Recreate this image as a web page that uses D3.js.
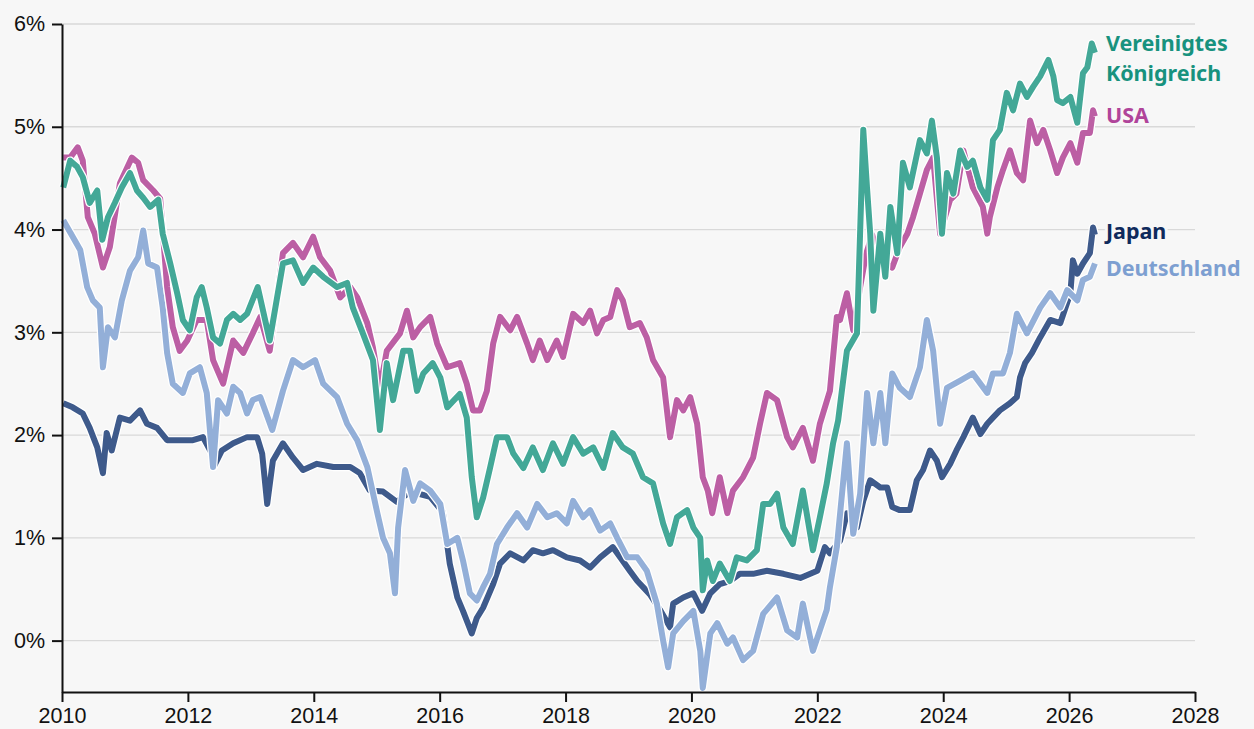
<!DOCTYPE html>
<html>
<head>
<meta charset="utf-8">
<script src="https://cdn.jsdelivr.net/npm/d3@7"></script>
<style>
  body { margin: 0; background: #f7f7f7; }
  svg { display: block; font-family: "Noto Sans", "Open Sans", sans-serif; }
  .axis text { font-size: 21.5px; fill: #111; }
  .axis path, .axis line { stroke: #111; stroke-width: 2; }
  .grid line { stroke: #d9d9d9; stroke-width: 1.3; }
  .label { font-size: 21.5px; font-weight: 700; paint-order: stroke; stroke: #f7f7f7; stroke-width: 6px; stroke-linejoin: round; }
</style>
</head>
<body>
<svg width="1254" height="729"></svg>
<script>
// 30-year government bond yields, [year, %]
var uk = [[2010.02,4.41],[2010.13,4.67],[2010.24,4.61],[2010.33,4.51],[2010.44,4.26],[2010.56,4.38],[2010.64,3.90],[2010.73,4.12],[2010.84,4.26],[2010.95,4.41],[2011.08,4.55],[2011.19,4.38],[2011.29,4.31],[2011.40,4.22],[2011.53,4.29],[2011.60,3.96],[2011.72,3.67],[2011.83,3.38],[2011.92,3.12],[2012.03,3.02],[2012.14,3.34],[2012.22,3.44],[2012.30,3.24],[2012.40,2.95],[2012.51,2.89],[2012.62,3.12],[2012.72,3.18],[2012.83,3.12],[2012.94,3.18],[2013.11,3.44],[2013.30,2.92],[2013.51,3.67],[2013.67,3.70],[2013.83,3.48],[2013.99,3.63],[2014.15,3.54],[2014.37,3.44],[2014.53,3.48],[2014.62,3.24],[2014.78,2.99],[2014.94,2.73],[2015.05,2.05],[2015.16,2.70],[2015.26,2.34],[2015.42,2.82],[2015.53,2.82],[2015.64,2.43],[2015.74,2.60],[2015.89,2.70],[2016.01,2.56],[2016.12,2.27],[2016.32,2.40],[2016.43,2.17],[2016.51,1.59],[2016.59,1.20],[2016.69,1.39],[2016.80,1.68],[2016.91,1.98],[2017.07,1.98],[2017.17,1.82],[2017.33,1.68],[2017.48,1.88],[2017.64,1.66],[2017.80,1.92],[2017.96,1.72],[2018.12,1.98],[2018.28,1.82],[2018.44,1.88],[2018.60,1.68],[2018.75,2.02],[2018.91,1.88],[2019.07,1.82],[2019.23,1.59],[2019.39,1.53],[2019.55,1.14],[2019.66,0.94],[2019.77,1.20],[2019.93,1.27],[2020.03,1.10],[2020.14,1.00],[2020.18,0.49],[2020.25,0.78],[2020.34,0.58],[2020.45,0.75],[2020.61,0.58],[2020.72,0.81],[2020.88,0.78],[2021.04,0.88],[2021.14,1.33],[2021.25,1.33],[2021.36,1.43],[2021.46,1.10],[2021.61,0.94],[2021.77,1.46],[2021.93,0.88],[2022.04,1.20],[2022.15,1.53],[2022.25,1.92],[2022.33,2.14],[2022.47,2.82],[2022.63,2.99],[2022.73,4.97],[2022.79,4.40],[2022.84,3.96],[2022.89,3.21],[2023.00,3.96],[2023.08,3.54],[2023.16,4.22],[2023.27,3.77],[2023.36,4.65],[2023.47,4.41],[2023.63,4.87],[2023.74,4.74],[2023.82,5.06],[2023.90,4.70],[2023.98,3.96],[2024.06,4.55],[2024.16,4.35],[2024.27,4.77],[2024.38,4.61],[2024.47,4.67],[2024.59,4.41],[2024.70,4.29],[2024.79,4.87],[2024.90,4.97],[2025.01,5.33],[2025.11,5.16],[2025.22,5.42],[2025.33,5.29],[2025.43,5.39],[2025.54,5.49],[2025.67,5.65],[2025.75,5.49],[2025.81,5.26],[2025.90,5.23],[2026.02,5.29],[2026.13,5.04],[2026.22,5.52],[2026.29,5.58],[2026.36,5.81],[2026.41,5.72]];

var usa = [[2010.02,4.70],[2010.13,4.70],[2010.25,4.80],[2010.33,4.67],[2010.41,4.12],[2010.52,3.96],[2010.65,3.63],[2010.76,3.83],[2010.92,4.45],[2011.11,4.70],[2011.21,4.65],[2011.29,4.48],[2011.45,4.38],[2011.56,4.30],[2011.67,3.44],[2011.76,3.05],[2011.87,2.82],[2011.99,2.92],[2012.14,3.12],[2012.30,3.12],[2012.40,2.73],[2012.56,2.50],[2012.72,2.92],[2012.88,2.80],[2013.03,2.99],[2013.15,3.15],[2013.30,2.82],[2013.51,3.77],[2013.67,3.87],[2013.83,3.73],[2013.99,3.93],[2014.10,3.73],[2014.26,3.60],[2014.42,3.34],[2014.58,3.44],[2014.69,3.34],[2014.85,3.09],[2014.94,2.85],[2015.05,2.45],[2015.16,2.82],[2015.37,2.99],[2015.48,3.21],[2015.58,2.95],[2015.69,3.05],[2015.85,3.15],[2015.96,2.89],[2016.12,2.66],[2016.32,2.70],[2016.43,2.50],[2016.53,2.24],[2016.64,2.24],[2016.75,2.43],[2016.85,2.89],[2016.96,3.15],[2017.12,3.02],[2017.23,3.15],[2017.39,2.89],[2017.48,2.73],[2017.59,2.92],[2017.71,2.73],[2017.86,2.92],[2017.96,2.76],[2018.12,3.18],[2018.28,3.09],[2018.39,3.21],[2018.50,2.99],[2018.60,3.12],[2018.71,3.15],[2018.82,3.41],[2018.91,3.31],[2019.02,3.05],[2019.18,3.09],[2019.29,2.95],[2019.39,2.73],[2019.55,2.56],[2019.66,1.98],[2019.77,2.34],[2019.87,2.24],[2019.98,2.37],[2020.09,2.11],[2020.18,1.59],[2020.26,1.46],[2020.33,1.24],[2020.45,1.59],[2020.57,1.24],[2020.66,1.46],[2020.82,1.59],[2020.98,1.78],[2021.09,2.11],[2021.20,2.41],[2021.36,2.34],[2021.52,1.98],[2021.61,1.88],[2021.77,2.07],[2021.93,1.75],[2022.04,2.11],[2022.20,2.43],[2022.31,3.15],[2022.36,3.12],[2022.47,3.38],[2022.57,3.02],[2022.68,3.44],[2022.77,3.75],[2022.87,3.95],[2023.00,3.70],[2023.19,3.63],[2023.31,3.83],[2023.43,3.96],[2023.52,4.12],[2023.63,4.35],[2023.74,4.58],[2023.84,4.70],[2023.95,3.96],[2024.11,4.29],[2024.21,4.35],[2024.32,4.77],[2024.47,4.41],[2024.63,4.22],[2024.70,3.96],[2024.74,4.12],[2024.86,4.41],[2024.95,4.58],[2025.06,4.77],[2025.17,4.55],[2025.27,4.48],[2025.38,5.06],[2025.49,4.84],[2025.59,4.97],[2025.70,4.77],[2025.81,4.55],[2025.90,4.70],[2026.02,4.84],[2026.13,4.65],[2026.22,4.94],[2026.33,4.94],[2026.38,5.16],[2026.41,5.10]];

var germany = [[2010.02,4.09],[2010.17,3.93],[2010.29,3.80],[2010.40,3.44],[2010.49,3.31],[2010.60,3.24],[2010.65,2.66],[2010.73,3.05],[2010.84,2.95],[2010.95,3.31],[2011.08,3.60],[2011.21,3.73],[2011.29,3.99],[2011.37,3.67],[2011.51,3.63],[2011.60,3.24],[2011.67,2.80],[2011.76,2.50],[2011.92,2.41],[2012.03,2.60],[2012.19,2.66],[2012.30,2.41],[2012.40,1.69],[2012.48,2.34],[2012.62,2.21],[2012.72,2.47],[2012.83,2.41],[2012.94,2.21],[2013.03,2.34],[2013.15,2.37],[2013.34,2.05],[2013.51,2.43],[2013.67,2.73],[2013.83,2.66],[2014.02,2.73],[2014.15,2.50],[2014.37,2.37],[2014.53,2.11],[2014.69,1.95],[2014.85,1.69],[2015.01,1.24],[2015.10,1.00],[2015.21,0.85],[2015.29,0.46],[2015.34,1.10],[2015.45,1.66],[2015.58,1.36],[2015.69,1.53],[2015.85,1.46],[2016.01,1.33],[2016.12,0.94],[2016.28,1.00],[2016.37,0.78],[2016.48,0.46],[2016.59,0.39],[2016.69,0.52],[2016.80,0.65],[2016.91,0.94],[2017.07,1.10],[2017.23,1.24],[2017.39,1.10],[2017.55,1.33],[2017.71,1.20],[2017.86,1.24],[2018.02,1.14],[2018.12,1.36],[2018.28,1.20],[2018.39,1.27],[2018.55,1.07],[2018.71,1.14],[2018.82,1.00],[2018.98,0.81],[2019.14,0.81],[2019.29,0.68],[2019.45,0.36],[2019.55,0.00],[2019.63,-0.26],[2019.71,0.07],[2019.87,0.19],[2020.03,0.29],[2020.14,-0.10],[2020.18,-0.46],[2020.30,0.07],[2020.41,0.17],[2020.57,-0.03],[2020.66,0.03],[2020.82,-0.19],[2020.98,-0.10],[2021.14,0.26],[2021.36,0.42],[2021.52,0.10],[2021.68,0.03],[2021.77,0.36],[2021.93,-0.10],[2022.04,0.10],[2022.15,0.30],[2022.20,0.52],[2022.31,0.91],[2022.47,1.92],[2022.57,1.04],[2022.68,1.43],[2022.79,2.41],[2022.89,1.92],[2023.00,2.41],[2023.08,1.92],[2023.19,2.60],[2023.31,2.46],[2023.47,2.37],[2023.63,2.66],[2023.74,3.12],[2023.84,2.82],[2023.95,2.11],[2024.06,2.46],[2024.27,2.53],[2024.47,2.60],[2024.70,2.41],[2024.79,2.60],[2024.95,2.60],[2025.06,2.80],[2025.17,3.18],[2025.33,2.99],[2025.54,3.24],[2025.70,3.38],[2025.86,3.24],[2025.97,3.41],[2026.13,3.31],[2026.22,3.51],[2026.33,3.54],[2026.41,3.67]];

var japan = [[2010.02,2.31],[2010.17,2.27],[2010.33,2.21],[2010.44,2.07],[2010.56,1.88],[2010.65,1.63],[2010.71,2.02],[2010.79,1.85],[2010.92,2.17],[2011.08,2.14],[2011.24,2.24],[2011.35,2.11],[2011.51,2.07],[2011.67,1.95],[2011.87,1.95],[2012.08,1.95],[2012.24,1.98],[2012.38,1.82],[2012.41,1.69],[2012.54,1.85],[2012.72,1.92],[2012.94,1.98],[2013.10,1.98],[2013.18,1.82],[2013.26,1.33],[2013.35,1.75],[2013.51,1.92],[2013.67,1.78],[2013.83,1.66],[2014.05,1.72],[2014.31,1.69],[2014.58,1.69],[2014.73,1.63],[2014.89,1.46],[2015.10,1.45],[2015.32,1.35],[2015.53,1.45],[2015.85,1.40],[2016.05,1.25],[2016.16,0.75],[2016.28,0.42],[2016.37,0.29],[2016.51,0.07],[2016.59,0.22],[2016.69,0.32],[2016.85,0.55],[2016.96,0.75],[2017.12,0.85],[2017.33,0.78],[2017.48,0.88],[2017.64,0.85],[2017.80,0.88],[2018.02,0.81],[2018.23,0.78],[2018.39,0.71],[2018.55,0.81],[2018.75,0.91],[2018.87,0.81],[2019.02,0.68],[2019.14,0.58],[2019.34,0.45],[2019.50,0.30],[2019.66,0.13],[2019.71,0.36],[2019.87,0.42],[2020.03,0.46],[2020.17,0.29],[2020.30,0.46],[2020.45,0.55],[2020.61,0.58],[2020.77,0.65],[2020.98,0.65],[2021.20,0.68],[2021.46,0.65],[2021.73,0.61],[2022.00,0.68],[2022.12,0.91],[2022.20,0.85],[2022.36,0.97],[2022.47,1.24],[2022.63,1.10],[2022.73,1.36],[2022.84,1.56],[2023.00,1.49],[2023.11,1.49],[2023.19,1.30],[2023.31,1.27],[2023.47,1.27],[2023.58,1.56],[2023.68,1.66],[2023.79,1.85],[2023.90,1.75],[2023.98,1.59],[2024.11,1.72],[2024.21,1.85],[2024.32,1.98],[2024.47,2.17],[2024.59,2.01],[2024.70,2.11],[2024.79,2.17],[2024.90,2.24],[2025.06,2.31],[2025.17,2.37],[2025.22,2.56],[2025.30,2.70],[2025.41,2.80],[2025.54,2.95],[2025.70,3.12],[2025.86,3.09],[2026.02,3.38],[2026.06,3.70],[2026.13,3.57],[2026.22,3.67],[2026.33,3.77],[2026.38,4.02],[2026.41,3.95]];

var yTicks = [0, 1, 2, 3, 4, 5, 6];
var xTicks = [2010, 2012, 2014, 2016, 2018, 2020, 2022, 2024, 2026, 2028];

var series = [
  { name: ["Japan"], values: japan, line: "#3e5a8b", text: "#0f2a5c", dy: [4] },
  { name: ["Deutschland"], values: germany, line: "#93afd8", text: "#7d9fd1", dy: [13] },
  { name: ["USA"], values: usa, line: "#bc5fa4", text: "#b0449a", dy: [7] },
  { name: ["Vereinigtes", "Königreich"], values: uk, line: "#43a897", text: "#17927e", dy: [-2, 28] }
];

var svg = d3.select("svg");
var margin = { top: 24, right: 59, bottom: 37, left: 62 };
var W = 1254, H = 729;

var x = d3.scaleLinear().domain([2010, 2028]).range([margin.left, W - margin.right]);
var y = d3.scaleLinear().domain([-0.5, 6]).range([H - margin.bottom, margin.top]);

// gridlines
svg.append("g").attr("class", "grid")
  .selectAll("line").data(yTicks).enter().append("line")
  .attr("x1", x(2010)).attr("x2", x(2028))
  .attr("y1", function(d) { return y(d); })
  .attr("y2", function(d) { return y(d); });

var line = d3.line()
  .x(function(d) { return x(d[0]); })
  .y(function(d) { return y(d[1]); });

// lines with a white halo
var g = svg.append("g");
series.forEach(function(s) {
  g.append("path").datum(s.values)
    .attr("d", line).attr("fill", "none")
    .attr("stroke", "#ffffff").attr("stroke-width", 8.5)
    .attr("stroke-linejoin", "round");
  g.append("path").datum(s.values)
    .attr("d", line).attr("fill", "none")
    .attr("stroke", s.line).attr("stroke-width", 6)
    .attr("stroke-linejoin", "round");
});

// axes
svg.append("g").attr("class", "axis")
  .attr("transform", "translate(" + margin.left + ",0)")
  .call(d3.axisLeft(y).tickValues(yTicks).tickSize(10).tickSizeOuter(0).tickPadding(7)
    .tickFormat(function(d) { return d + "%"; }));

svg.append("g").attr("class", "axis")
  .attr("transform", "translate(0," + (H - margin.bottom) + ")")
  .call(d3.axisBottom(x).tickValues(xTicks).tickSize(10).tickSizeOuter(0).tickPadding(6)
    .tickFormat(d3.format("d")));

// labels at the last value
series.forEach(function(s) {
  var last = s.values[s.values.length - 1];
  s.name.forEach(function(n, i) {
    svg.append("text").attr("class", "label")
      .attr("x", x(last[0]) + 11)
      .attr("y", y(last[1]) + s.dy[i])
      .attr("fill", s.text)
      .text(n);
  });
});
</script>
</body>
</html>
